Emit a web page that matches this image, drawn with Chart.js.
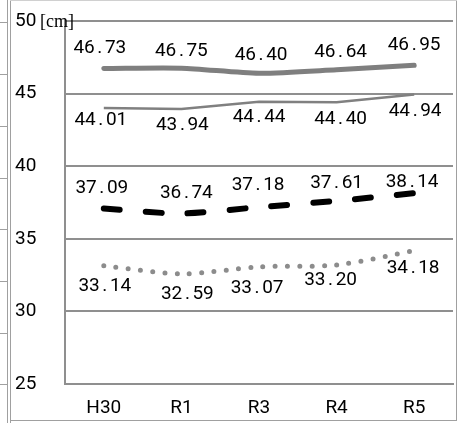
<!DOCTYPE html>
<html><head><meta charset="utf-8">
<script src="https://cdn.jsdelivr.net/npm/chart.js@4"></script>
<style>html,body{margin:0;padding:0;background:#fff}#wrap{width:462px;height:423px;position:relative}</style>
</head><body><div id="wrap"><canvas id="c" width="462" height="423"></canvas></div>
<script>
const categories = ["H30","R1","R3","R4","R5"];
const series1 = [46.73,46.75,46.40,46.64,46.95];
const series2 = [44.01,43.94,44.44,44.40,44.94];
const series3 = [37.09,36.74,37.18,37.61,38.14];
const series4 = [33.14,32.59,33.07,33.20,34.18];
const yMin = 25, yMax = 50, yStep = 5;
const unitLabel = "[cm]";

// label placement (pixel nudges relative to each point), kept apart from the data
const labelDX = [[-4,0,2,4,0],[-3,1,0,4,1],[-2,5,-1,0,-2],[1,6,-2,-6,-1]];
const labelDY = [[-20,-17,-18,-18,-20],[12,16,16,17,17],[-20,-20,-22,-18,-11],[20,20,21,15,18]];

const frame = {
  id:'frame',
  beforeDraw(chart){
    const c = chart.ctx; c.save();
    c.strokeStyle='#a0a0a0'; c.lineWidth=1;
    c.beginPath(); c.moveTo(7.5,0); c.lineTo(7.5,423); c.stroke();
    c.beginPath(); c.moveTo(10.5,0); c.lineTo(10.5,423); c.stroke();
    c.beginPath(); c.moveTo(456.5,0); c.lineTo(456.5,421); c.stroke();
    c.beginPath(); c.moveTo(10,420.5); c.lineTo(457,420.5); c.stroke();
    c.strokeStyle='#d0d0d0';
    c.beginPath(); c.moveTo(10,0.5); c.lineTo(457,0.5); c.stroke();
    c.strokeStyle='#a0a0a0';
    [22.5,74.5,126.5,178.5,229.5,281.5,333.5,384.5].forEach(y=>{c.beginPath();c.moveTo(0,y);c.lineTo(7,y);c.stroke();});
    c.restore();
  },
  afterDraw(chart){
    const c = chart.ctx; const ys = chart.scales.y;
    c.save();
    c.font="18px 'Liberation Serif'"; c.fillStyle='#000'; c.textBaseline='middle'; c.textAlign='left';
    c.fillText(unitLabel, 40, ys.getPixelForValue(yMax)+1);
    c.restore();
  }
};

const valueLabels = {
  id:'valueLabels',
  afterDatasetsDraw(chart){
    const c = chart.ctx; c.save();
    c.font="19px Roboto"; c.fillStyle='#000'; c.textBaseline='middle'; c.textAlign='center';
    const cell = 10.5;
    chart.data.datasets.forEach((ds,di)=>{
      const meta = chart.getDatasetMeta(di);
      meta.data.forEach((pt,i)=>{
        const s = ds.data[i].toFixed(2);
        const x0 = pt.x + labelDX[di][i] - cell*s.length/2 + cell/2;
        const y = pt.y + labelDY[di][i];
        for(let k=0;k<s.length;k++){ c.fillText(s[k], x0 + k*cell, y); }
      });
    });
    c.restore();
  }
};

new Chart(document.getElementById('c'), {
  type:'line',
  data:{
    labels: categories,
    datasets:[
      {data:series1, borderColor:'#7f7f7f', borderWidth:5, tension:0.25, pointRadius:0, borderCapStyle:'round', borderJoinStyle:'round'},
      {data:series2, borderColor:'#808080', borderWidth:2.5, tension:0, pointRadius:0},
      {data:series3, borderColor:'#000000', borderWidth:6, tension:0.25, pointRadius:0, borderDash:[16,26], borderCapStyle:'round'},
      {data:series4, borderColor:'#8c8c8c', borderWidth:5, tension:0.3, pointRadius:0, borderDash:[0,12.3], borderCapStyle:'round'}
    ]
  },
  options:{
    responsive:false, animation:false,
    layout:{padding:{left:15, right:9, top:21, bottom:0}},
    plugins:{legend:{display:false}, tooltip:{enabled:false}},
    scales:{
      x:{
        offset:true,
        grid:{display:false, offset:true, drawTicks:false},
        border:{display:true, color:'#8f8f8f', width:2},
        ticks:{font:{family:'Roboto', size:19}, color:'#000', padding:12.6, maxRotation:0},
        afterFit(s){ s.height = 39; }
      },
      y:{
        min:yMin, max:yMax,
        grid:{color:'#8f8f8f', lineWidth:2, drawTicks:false},
        border:{display:true, color:'#8f8f8f', width:2},
        ticks:{stepSize:yStep, font:{family:'Roboto', size:19}, color:'#000', crossAlign:'far', padding:0},
        afterFit(s){ s.width = 50; }
      }
    }
  },
  plugins:[frame, valueLabels]
});
</script></body></html>
